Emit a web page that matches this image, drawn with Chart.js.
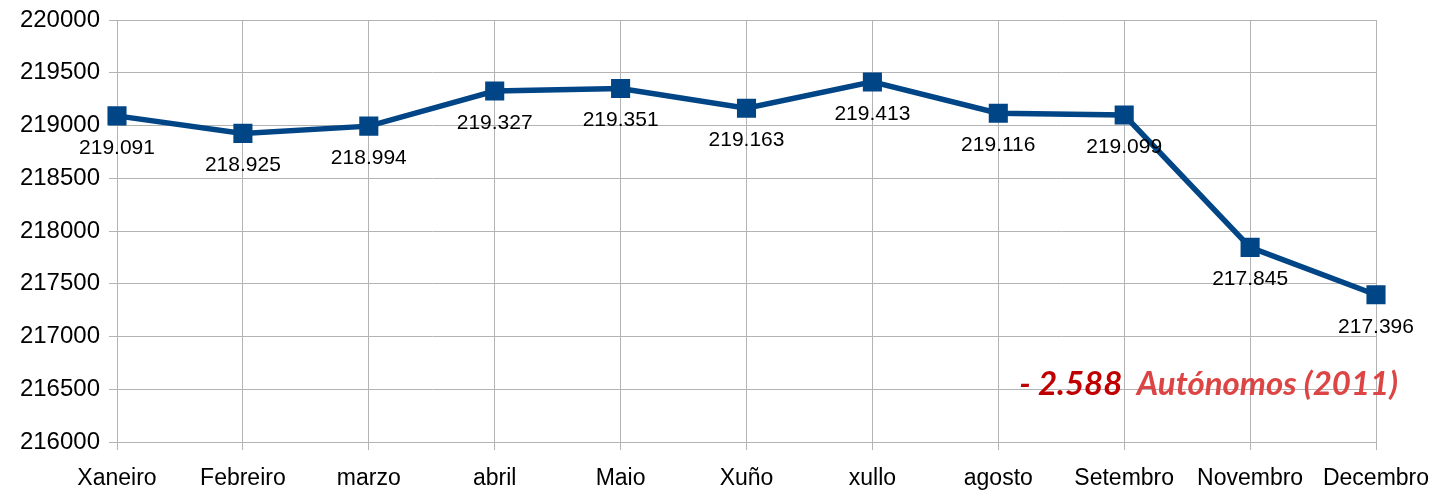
<!DOCTYPE html>
<html>
<head>
<meta charset="utf-8">
<script src="https://cdn.jsdelivr.net/npm/chart.js@4.4.1/dist/chart.umd.min.js"></script>
<style>
  body { margin: 0; background: #fff; }
  #wrap { width: 1443px; height: 492px; }
</style>
</head>
<body>
<div id="wrap"><canvas id="myChart"></canvas></div>
<script>
// months and totals
const months = ['Xaneiro', 'Febreiro', 'marzo', 'abril', 'Maio', 'Xuño', 'xullo', 'agosto', 'Setembro', 'Novembro', 'Decembro'];
const autonomos = [219091, 218925, 218994, 219327, 219351, 219163, 219413, 219116, 219099, 217845, 217396];
const yMin = 216000;
const yMax = 220000;
const yStep = 500;
const noteNumber = '- 2.588';
const noteText = 'Autónomos (2011)';

const gridColor = '#b3b3b3';
const lineColor = '#004586';

// value labels under each point, "219.091" style
const valueLabels = {
    id: 'valueLabels',
    afterDatasetsDraw(chart) {
        const ctx = chart.ctx;
        const meta = chart.getDatasetMeta(0);
        ctx.save();
        ctx.font = '21px "Liberation Sans", Arial, sans-serif';
        ctx.fillStyle = '#000';
        ctx.textAlign = 'center';
        ctx.textBaseline = 'middle';
        meta.data.forEach(function (pt, i) {
            const v = autonomos[i];
            ctx.fillText((v / 1000).toFixed(3), pt.x, pt.y + 32);
        });
        ctx.restore();
    }
};

// red note in the lower right corner
const note = {
    id: 'note',
    afterDraw(chart) {
        const ctx = chart.ctx;
        const right = chart.chartArea.right + 22;
        const base = chart.scales.y.getPixelForValue(216500) + 6;
        ctx.save();
        ctx.font = 'italic bold 33px Lato, "Open Sans", sans-serif';
        ctx.textBaseline = 'alphabetic';
        ctx.textAlign = 'right';
        ctx.fillStyle = '#dd4545';
        ctx.fillText(noteText, right, base);
        const w = ctx.measureText(noteText + '  ').width;
        ctx.fillStyle = '#c00000';
        ctx.fillText(noteNumber, right - w, base);
        ctx.restore();
    }
};

const ctx = document.getElementById('myChart').getContext('2d');
new Chart(ctx, {
    type: 'line',
    data: {
        labels: months,
        datasets: [{
            label: 'Autónomos',
            data: autonomos,
            borderColor: lineColor,
            backgroundColor: lineColor,
            borderWidth: 5.5,
            pointStyle: 'rect',
            pointRadius: 13.5,
            pointHoverRadius: 13.5,
            pointBorderWidth: 0,
            tension: 0,
            fill: false
        }]
    },
    options: {
        responsive: true,
        maintainAspectRatio: false,
        animation: false,
        events: [],
        layout: { padding: { top: 20, right: 67, left: 0, bottom: 0 } },
        plugins: {
            legend: { display: false },
            tooltip: { enabled: false }
        },
        scales: {
            x: {
                offset: false,
                grid: { color: gridColor, tickLength: 8, offset: false },
                border: { color: gridColor },
                ticks: {
                    color: '#000',
                    font: { family: '"Liberation Sans", Arial, sans-serif', size: 23 },
                    padding: 15,
                    maxRotation: 0,
                    autoSkip: false
                },
                afterFit(scale) {
                    scale.height = 50;
                    scale.paddingLeft = 0;
                    scale.paddingRight = 0;
                }
            },
            y: {
                min: yMin,
                max: yMax,
                grid: { color: gridColor, tickLength: 8 },
                border: { color: gridColor },
                ticks: {
                    stepSize: yStep,
                    color: '#000',
                    font: { family: '"Liberation Sans", Arial, sans-serif', size: 24 },
                    padding: 9,
                    callback: v => String(v)
                },
                afterFit(scale) {
                    scale.width = 117;
                    scale.paddingTop = 0;
                    scale.paddingBottom = 0;
                }
            }
        }
    },
    plugins: [valueLabels, note]
});
</script>
</body>
</html>
